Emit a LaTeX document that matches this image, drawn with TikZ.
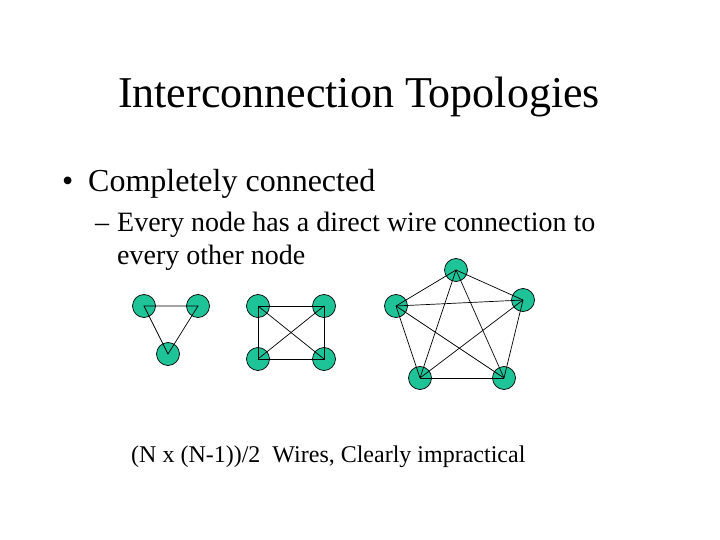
\documentclass[tikz,border=0pt]{standalone}
\usepackage{fontspec}
\setmainfont{Liberation Serif}
\definecolor{nodeteal}{RGB}{30,196,152}
\begin{document}
\begin{tikzpicture}[x=1pt,y=-1pt,
  pe/.style={circle,draw=black,line width=0.7pt,fill=nodeteal,minimum size=23pt,inner sep=0pt},
  wire/.style={draw=black,line width=0.7pt},
  txt/.style={anchor=base west,inner sep=0pt}]
\useasboundingbox (0,0) rectangle (720,540);
% texts
\node[anchor=base,inner sep=0pt,font=\fontsize{44}{50}\selectfont] (title) at (359,108) {Interconnection Topologies};
\node[txt,font=\fontsize{32}{38}\selectfont] (b1) at (62,192) {\textbullet};
\node[txt,font=\fontsize{32}{38}\selectfont] (t1) at (88,192) {Completely connected};
\node[txt,font=\fontsize{28}{34}\selectfont] (d1) at (95,231) {–};
\node[txt,font=\fontsize{28}{34}\selectfont] (t2) at (117,231) {Every node has a direct wire connection to};
\node[txt,font=\fontsize{28}{34}\selectfont] (t3) at (117,264) {every other node};
\node[txt,font=\fontsize{24}{28}\selectfont] (t4) at (131,462) {(N x (N-1))/2\ \ Wires, Clearly impractical};
% triangle
\node[pe] (a1) at (144,306) {};
\node[pe] (a2) at (198,306) {};
\node[pe] (a3) at (168,354) {};
% square
\node[pe] (s1) at (258,306) {};
\node[pe] (s2) at (324,306) {};
\node[pe] (s3) at (258,359) {};
\node[pe] (s4) at (324,359) {};
% pentagon
\node[pe] (p1) at (456,270) {};
\node[pe] (p2) at (396,306) {};
\node[pe] (p3) at (523,300) {};
\node[pe] (p4) at (420,378) {};
\node[pe] (p5) at (504,378) {};
% wires
\draw[wire] (a1.center) -- (a2.center) -- (a3.center) -- cycle;
\draw[wire] (s1.center) -- (s2.center) -- (s4.center) -- (s3.center) -- cycle;
\draw[wire] (s1.center) -- (s4.center);
\draw[wire] (s2.center) -- (s3.center);
\foreach \i/\j in {p1/p2,p1/p3,p1/p4,p1/p5,p2/p3,p2/p4,p2/p5,p3/p4,p3/p5,p4/p5}
  \draw[wire] (\i.center) -- (\j.center);
\end{tikzpicture}
\end{document}
